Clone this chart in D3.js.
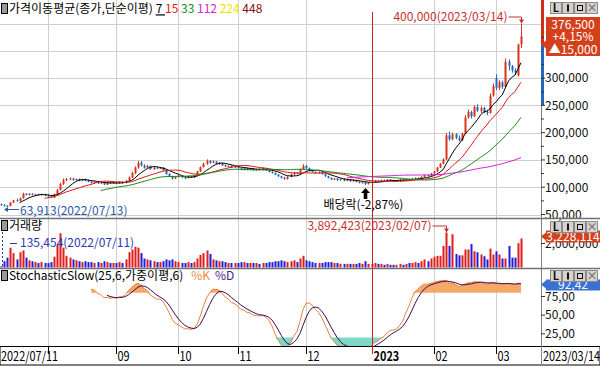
<!DOCTYPE html>
<html><head><meta charset="utf-8">
<script src="https://cdn.jsdelivr.net/npm/d3@7"></script>
<style>
body{margin:0;background:#fff;}
svg{display:block;font-family:"Noto Sans CJK KR","Noto Sans",sans-serif;}
</style></head><body>
<svg id="c" width="600" height="366"></svg>
<script>
// ---------- DATA ----------
const monthLabels = ["2022/07/11","08","09","10","11","12","2023","02","03"];
const monthDays   = [15,22,20,19,22,21,20,20,9];
const lastDateLabel = "2023/03/14";
// prices in thousands (KRW)
const open = [
69,67,66,66,72,76,75,80,88,86,
88,86,87,85.5,87,85,83,81,87,95,
106,113,115,116,113,115,112,114,112,110,
108,110,107,109,105,109,107,109,107,110,
108,112,118,126,136,145,140,136,139,133,
136,134,136,131,124,120,116,119,121,118,
117,120,118,121,129,137,143,148,145,147,
143,144,140,138,139,136,138,135,132,135,
132,134,131,133,132,135,131,128,126,123,
120,117,115,119,124,127,125,133,139,135,
130,128,126,128,124,120,117,114,116,113,
115,112,114,111,113,110,108,109,106,108,
110,112,111,113,112,114,113,111,112,114,
113,115,114,116,117,116,119,122,121,125,
129,136,143,151,195,188,197,190,186,198,
228,238,230,247,240,245,238,236,268,300,
282,292,284,330,322,314,305,362];
const high = [
70,69,67,73,77,79,81,90,89,89,
89,88,88,88,88,86,84,88,97,108,
116,117,118,117,116,116,115,116,114,112,
111,111,110,110,110,110,110,110,111,111,
113,120,128,138,148,148,142,141,140,137,
137,137,137,132,126,121,120,123,122,119,
121,121,122,130,138,145,151,150,149,148,
146,145,142,140,140,139,139,136,136,136,
135,135,134,135,136,136,132,129,127,124,
121,119,120,125,128,128,134,142,141,136,
132,129,129,129,125,121,118,117,117,116,
116,115,115,114,114,111,110,110,109,111,
113,113,114,114,115,115,114,113,115,115,
116,116,117,118,118,120,123,123,126,130,
137,144,153,199,202,200,199,195,200,232,
242,240,250,252,248,247,242,272,290,307,
296,295,336,334,324,318,363,400];
const low = [
66,65,63.913,65,71,74,74,79,85,85,
85,85,85,85,84,82,80,80,86,94,
104,111,113,112,112,111,111,111,109,107,
107,106,106,104,104,106,106,106,106,107,
107,111,117,124,134,138,134,135,132,132,
133,133,130,123,119,114,115,118,117,115,
116,117,117,120,128,136,141,143,144,142,
141,139,137,136,135,135,134,131,131,131,
131,130,130,131,131,130,127,125,122,119,
116,114,114,118,122,124,124,132,134,129,
127,125,125,123,119,116,113,113,112,112,
111,111,110,110,109,107,107,104,105,107,
109,110,110,111,111,112,110,110,111,112,
112,113,113,115,115,115,118,120,120,124,
128,135,142,150,185,186,188,184,185,197,
226,226,229,238,236,235,232,235,266,278,
278,280,282,314,310,306,303,355];
const close = [
67,66,65.5,72,76,75,80,88,86,88,
86,87,85.5,87,85,83,81,87,95,106,
113,115,116,113,115,112,114,112,110,108,
110,107,109,105,109,107,109,107,110,108,
112,118,126,136,145,140,136,139,133,136,
134,136,131,124,120,116,119,121,118,117,
120,118,121,129,137,143,148,145,147,143,
144,140,138,139,136,138,135,132,135,132,
134,131,133,132,135,131,128,126,123,120,
117,115,119,124,127,125,133,139,135,130,
128,126,128,124,120,117,114,116,113,115,
112,114,111,113,110,108,109,106,108,110,
112,111,113,112,114,113,111,112,114,113,
115,114,116,117,116,119,122,121,125,129,
136,143,151,195,188,197,190,186,198,228,
238,230,247,240,245,238,236,268,285,282,
292,284,330,322,314,310,361.5,376.5];
// volume in thousands of shares
const volume = [
135.454,700,1100,2200,1600,900,1700,1900,1100,800,
700,600,500,600,500,500,600,1200,2500,3800,
2200,1300,1100,900,800,700,600,700,600,600,
500,600,500,700,600,500,500,500,600,500,
900,1700,2000,2300,2200,1600,1000,900,800,700,
600,600,700,900,800,900,700,600,500,500,
600,500,600,1000,1400,1600,1900,1500,900,800,
700,700,600,500,500,500,500,600,600,500,
500,500,500,400,500,500,600,600,700,700,
800,700,600,700,800,600,1000,1300,800,700,
600,500,500,500,600,600,600,500,500,400,
400,400,400,400,400,500,400,700,400,400,
500,400,400,300,400,300,300,300,400,300,
400,500,500,600,500,700,900,700,1000,1200,
1300,1300,2400,3892.423,2400,3700,1500,1350,1350,2000,
2000,2600,1800,1700,1450,1250,900,2100,1450,1800,
1450,1000,1000,2400,1100,1100,2700,3228.114];
const maPeriods = [7,15,33,112,224,448];
const maColors  = ["#000000","#e01818","#1a8a1a","#d820d8","#e8e800","#8a1010"];
const priceTicks = [50000,100000,150000,200000,250000,300000,350000];
const stochTicks = [25,50,75];
const volTicks = [2000000];
const exDivIndex = 117, exDivText = "배당락(-2,87%)";
const yearLineIndex = 119;
const prevClose = 361500, lastClose = 376500;

// ---------- SCALES ----------
const N = close.length;
const O = open.map(v=>v*1000), Hh = high.map(v=>v*1000), L = low.map(v=>v*1000), C = close.map(v=>v*1000), V = volume.map(v=>v*1000);
const x = d3.scaleLinear().domain([0,N-1]).range([1,521]);
const yP = d3.scaleLinear().domain([50000,400000]).range([214.5,23.5]);
const yV = d3.scaleLinear().domain([0,d3.max(V)]).range([267.5,232.5]);
const yS = d3.scaleLinear().domain([0,100]).range([352.5,277.8]);
const R = 541;
const P1={t:0,b:218}, P2={t:218,b:268}, P3={t:268,b:346};

const svg = d3.select("#c");
const defs = svg.append("defs");
[P1,P2,P3].forEach((p,i)=>{
  defs.append("clipPath").attr("id","cl"+i).append("rect").attr("x",0).attr("y",p.t+1).attr("width",R).attr("height",p.b-p.t-1);
});
svg.append("rect").attr("width",600).attr("height",366).attr("fill","#fff");

const monthStart=[]; {let a=0; monthDays.forEach(d=>{monthStart.push(a); a+=d;});}
const gridC="#cfcfcf";
[P1,P2,P3].forEach(p=>{
  monthStart.slice(1).forEach(i=>{
    if(i===yearLineIndex) return;
    svg.append("line").attr("x1",Math.round(x(i))+0.5).attr("x2",Math.round(x(i))+0.5).attr("y1",p.t).attr("y2",p.b).attr("stroke",gridC);
  });
});
priceTicks.concat([400000]).forEach(v=>{
  svg.append("line").attr("x1",0).attr("x2",R).attr("y1",Math.round(yP(v))+0.5).attr("y2",Math.round(yP(v))+0.5).attr("stroke",gridC);
});

// ---------- PRICE PANEL ----------
const gP = svg.append("g").attr("clip-path","url(#cl0)");
const up="#d8341c", dn="#2468c0";
d3.range(N).forEach(i=>{
  const col = C[i]>=O[i]?up:dn;
  const xc = Math.round(x(i));
  gP.append("line").attr("x1",xc+0.5).attr("x2",xc+0.5).attr("y1",yP(Hh[i])).attr("y2",yP(L[i])).attr("stroke",col);
  const y0=yP(Math.max(O[i],C[i])), y1=yP(Math.min(O[i],C[i]));
  gP.append("rect").attr("x",xc-0.5).attr("y",y0).attr("width",2).attr("height",Math.max(1,y1-y0)).attr("fill",col);
});
maPeriods.forEach((p,k)=>{
  const pts=[];
  for(let i=p-1;i<N;i++){ pts.push([x(i), yP(d3.mean(C.slice(i-p+1,i+1)))]); }
  if(pts.length) gP.append("path").attr("d",d3.line()(pts)).attr("fill","none").attr("stroke",maColors[k]).attr("stroke-width",1);
});

// ---------- VOLUME PANEL ----------
const gV = svg.append("g").attr("clip-path","url(#cl1)");
d3.range(N).forEach(i=>{
  const col = C[i]>=O[i]?"#e01c1c":"#2020d8";
  gV.append("rect").attr("x",Math.round(x(i))-0.5).attr("y",yV(V[i])).attr("width",2).attr("height",yV(0)-yV(V[i])).attr("fill",col);
});

// ---------- STOCHASTIC ----------
function wma(arr,n){ const out=arr.map(()=>null); for(let i=0;i<arr.length;i++){ let s=0,w=0,ok=true; for(let j=0;j<n;j++){ const v=arr[i-j]; if(v==null){ok=false;break;} s+=v*(n-j); w+=n-j;} if(ok) out[i]=s/w; } return out; }
const raw = C.map((c,i)=>{ if(i<24) return null; const hh=d3.max(Hh.slice(i-24,i+1)), ll=d3.min(L.slice(i-24,i+1)); return hh===ll?50:(c-ll)/(hh-ll)*100; });
const K = wma(raw,6), D = wma(K,6);
const gS = svg.append("g").attr("clip-path","url(#cl2)");
const kIdx = d3.range(N).filter(i=>K[i]!=null);
gS.append("path").attr("d", d3.area().x(i=>x(i)).y0(yS(80)).y1(i=>yS(Math.max(80,K[i])))(kIdx)).attr("fill","#f6a868");
gS.append("path").attr("d", d3.area().x(i=>x(i)).y0(yS(20)).y1(i=>yS(Math.min(20,K[i])))(kIdx)).attr("fill","#7fd8c6");
gS.append("path").attr("d", d3.line().x(i=>x(i)).y(i=>yS(K[i]))(kIdx)).attr("fill","none").attr("stroke","#e8803a");
const dIdx = d3.range(N).filter(i=>D[i]!=null);
gS.append("path").attr("d", d3.line().x(i=>x(i)).y(i=>yS(D[i]))(dIdx)).attr("fill","none").attr("stroke","#3c0a5a");

svg.append("line").attr("x1",Math.round(x(yearLineIndex))+0.5).attr("x2",Math.round(x(yearLineIndex))+0.5).attr("y1",12).attr("y2",354).attr("stroke","#d02020");

[P1.b,P2.b].forEach(y=>svg.append("line").attr("x1",0).attr("x2",R).attr("y1",y+0.5).attr("y2",y+0.5).attr("stroke","#707070").attr("stroke-width",1.5));

// ---------- RIGHT AXES ----------
svg.append("rect").attr("x",R).attr("y",0).attr("width",600-R).attr("height",347).attr("fill","#fff");
svg.append("line").attr("x1",R+0.5).attr("x2",R+0.5).attr("y1",0).attr("y2",347).attr("stroke","#808080");
svg.append("rect").attr("x",R).attr("y",0).attr("width",3).attr("height",yP(prevClose)).attr("fill","#d03018");
svg.append("rect").attr("x",R).attr("y",yP(prevClose)).attr("width",3).attr("height",yP(250000)-yP(prevClose)).attr("fill","#2466c0");
const fmt = d3.format(",");
const axT = (y,t)=>{ svg.append("line").attr("x1",R).attr("x2",R+4).attr("y1",y).attr("y2",y).attr("stroke","#333");
  svg.append("text").attr("x",R+4).attr("y",y).attr("dy","0.36em").attr("font-size",12).attr("fill","#111").text(t); };
d3.range(75000,400000,50000).forEach(v=>svg.append("line").attr("x1",R).attr("x2",R+3).attr("y1",yP(v)).attr("y2",yP(v)).attr("stroke","#333"));
priceTicks.forEach(v=>{ if(yP(v)<P1.b-2 && v<350000) axT(yP(v),fmt(v)); });
volTicks.forEach(v=>axT(yV(v)-6,fmt(v)));
stochTicks.forEach(v=>axT(yS(v),v+",00"));
svg.append("line").attr("x1",R).attr("x2",600).attr("y1",P1.b+0.5).attr("y2",P1.b+0.5).attr("stroke","#707070").attr("stroke-width",1.5);
svg.append("line").attr("x1",R).attr("x2",600).attr("y1",P2.b+0.5).attr("y2",P2.b+0.5).attr("stroke","#707070").attr("stroke-width",1.5);

function box(y,top,bot,fill,lines,cy){
  svg.append("path").attr("d",`M${R},${y} L${R+5},${y-4} L${R+5},${top} L600,${top} L600,${bot} L${R+5},${bot} L${R+5},${y+4} Z`).attr("fill",fill);
  lines.forEach((t,k)=>svg.append("text").attr("x",573).attr("y",cy[k]).attr("dy","0.36em").attr("text-anchor","middle").attr("font-size",12).attr("fill","#fff").text(t));
}
box(yP(prevClose),17,56,"#d4401c",[fmt(lastClose),"+4,15%","▲"+fmt(lastClose-prevClose)],[24.5,37,49.5]);
box(236.5,230.5,242.5,"#d4401c",[fmt(V[N-1])],[236.5]);
box(284.5,279.5,290.5,"#3a72d4",[(Math.round(K[N-1]*100)/100).toFixed(2).replace(".",",")],[285]);

[2,221,270].forEach(ty=>{
  ["L","I","□","×"].forEach((g,k)=>{
    const bx=550+k*12;
    svg.append("rect").attr("x",bx+0.5).attr("y",ty+0.5).attr("width",11).attr("height",11).attr("fill","#d6d3ce").attr("stroke","#8a8a8a");
    if(g==="I") svg.append("rect").attr("x",bx+5).attr("y",ty+2.5).attr("width",2).attr("height",7).attr("fill","#111");
    else if(g==="□") svg.append("rect").attr("x",bx+3.5).attr("y",ty+3.5).attr("width",5).attr("height",5).attr("fill","none").attr("stroke","#111");
    else svg.append("text").attr("x",bx+6).attr("y",ty+6).attr("dy","0.36em").attr("text-anchor","middle").attr("font-size",11).attr("font-weight","bold").attr("fill",g==="×"?"#777":"#111").text(g);
  });
});

// ---------- TITLES ----------
function icon(y){ svg.append("rect").attr("x",1.5).attr("y",y-5.5).attr("width",6).attr("height",10).attr("fill","#999").attr("stroke","#000"); }
icon(9); icon(226); icon(276);
const t1 = svg.append("text").attr("x",9).attr("y",9).attr("dy","0.36em").attr("font-size",12).attr("fill","#000");
t1.append("tspan").text("가격이동평균(종가,단순이평) ");
maPeriods.forEach((p,k)=>t1.append("tspan").attr("fill",maColors[k]).attr("text-decoration",k===0?"underline":null).text(p+(k<maPeriods.length-1?" ":"")));
svg.append("text").attr("x",9).attr("y",226).attr("dy","0.36em").attr("font-size",12).text("거래량");
const t3 = svg.append("text").attr("x",9).attr("y",276).attr("dy","0.36em").attr("font-size",12);
t3.append("tspan").text("StochasticSlow(25,6,가중이평,6)");
t3.append("tspan").attr("dx",8).attr("fill","#f08a40").text("%K");
t3.append("tspan").attr("dx",5).attr("fill","#4a1a8a").text("%D");

// ---------- ANNOTATIONS ----------
const iMax = d3.maxIndex(Hh), iMin = d3.minIndex(L);
const xm = Math.round(x(iMax))+0.5;
svg.append("text").attr("x",xm-14).attr("y",17).attr("dy","0.36em").attr("text-anchor","end").attr("font-size",12).attr("fill","#c83030").text(fmt(Hh[iMax])+"(2023/03/14)");
svg.append("path").attr("d",`M${xm-13},17 H${xm} V${yP(Hh[iMax])-2}`).attr("fill","none").attr("stroke","#c83030");
svg.append("path").attr("d",`M${xm-2.5},${yP(Hh[iMax])-4} L${xm+2.5},${yP(Hh[iMax])-4} L${xm},${yP(Hh[iMax])} Z`).attr("fill","#c83030");
const xn = Math.round(x(iMin));
svg.append("text").attr("x",20).attr("y",211).attr("dy","0.36em").attr("font-size",12).attr("fill","#2a58a8").text("63,913(2022/07/13)");
svg.append("path").attr("d",`M${xn-1},209.5 H19`).attr("stroke","#2a58a8");
svg.append("path").attr("d",`M${xn-3},209.5 L${xn+1},207 L${xn+1},212 Z`).attr("fill","#2a58a8");
const iVmax = d3.maxIndex(V), xvm = Math.round(x(iVmax))+0.5;
svg.append("text").attr("x",xvm-15).attr("y",226).attr("dy","0.36em").attr("text-anchor","end").attr("font-size",12).attr("fill","#c83030").text(fmt(V[iVmax])+"(2023/02/07)");
svg.append("path").attr("d",`M${xvm-14},226 H${xvm} V${yV(V[iVmax])-2}`).attr("fill","none").attr("stroke","#c83030");
svg.append("path").attr("d",`M${xvm-2.5},${yV(V[iVmax])-4} L${xvm+2.5},${yV(V[iVmax])-4} L${xvm},${yV(V[iVmax])} Z`).attr("fill","#c83030");
svg.append("text").attr("x",20).attr("y",243).attr("dy","0.36em").attr("font-size",12).attr("fill","#2a3ab0").text(fmt(V[0])+"(2022/07/11)");
svg.append("line").attr("x1",2.5).attr("x2",2.5).attr("y1",232).attr("y2",267).attr("stroke","#2a3ab0").attr("stroke-dasharray","2,2");
svg.append("line").attr("x1",10).attr("x2",17).attr("y1",243.5).attr("y2",243.5).attr("stroke","#2a3ab0");
const xe = Math.round(x(exDivIndex))+0.5, ye = yP(L[exDivIndex])+3;
svg.append("path").attr("d",`M${xe},${ye} L${xe+4.5},${ye+5} L${xe+1.8},${ye+5} L${xe+1.8},${ye+11} L${xe-1.8},${ye+11} L${xe-1.8},${ye+5} L${xe-4.5},${ye+5} Z`).attr("fill","#000");
svg.append("text").attr("x",xe-42).attr("y",ye+17).attr("dy","0.36em").attr("font-size",12).attr("fill","#000").text(exDivText);

// ---------- BOTTOM AXIS ----------
svg.append("rect").attr("x",0).attr("y",346.5).attr("width",600).attr("height",18.5).attr("fill","#fff").attr("stroke","#000");
svg.append("line").attr("x1",R+0.5).attr("x2",R+0.5).attr("y1",346).attr("y2",366).attr("stroke","#888");
svg.append("line").attr("x1",Math.round(x(yearLineIndex))+0.5).attr("x2",Math.round(x(yearLineIndex))+0.5).attr("y1",346).attr("y2",354).attr("stroke","#d02020");
monthStart.forEach((i,k)=>{
  const xi = k===0?0:Math.round(x(i))+0.5;
  if(k>0 && i!==yearLineIndex) svg.append("line").attr("x1",xi).attr("x2",xi).attr("y1",347).attr("y2",354).attr("stroke","#000");
  if(k===1) return;
  svg.append("text").attr("transform",`translate(${k===0?1:xi+1},356) scale(0.84,1)`).attr("dy","0.36em").attr("font-size",13)
    .attr("font-weight",monthLabels[k]==="2023"?"bold":null).attr("fill","#000").text(monthLabels[k]);
});
svg.append("text").attr("transform",`translate(${R+2},356) scale(0.84,1)`).attr("dy","0.36em").attr("font-size",13).text(lastDateLabel);
</script></body></html>
